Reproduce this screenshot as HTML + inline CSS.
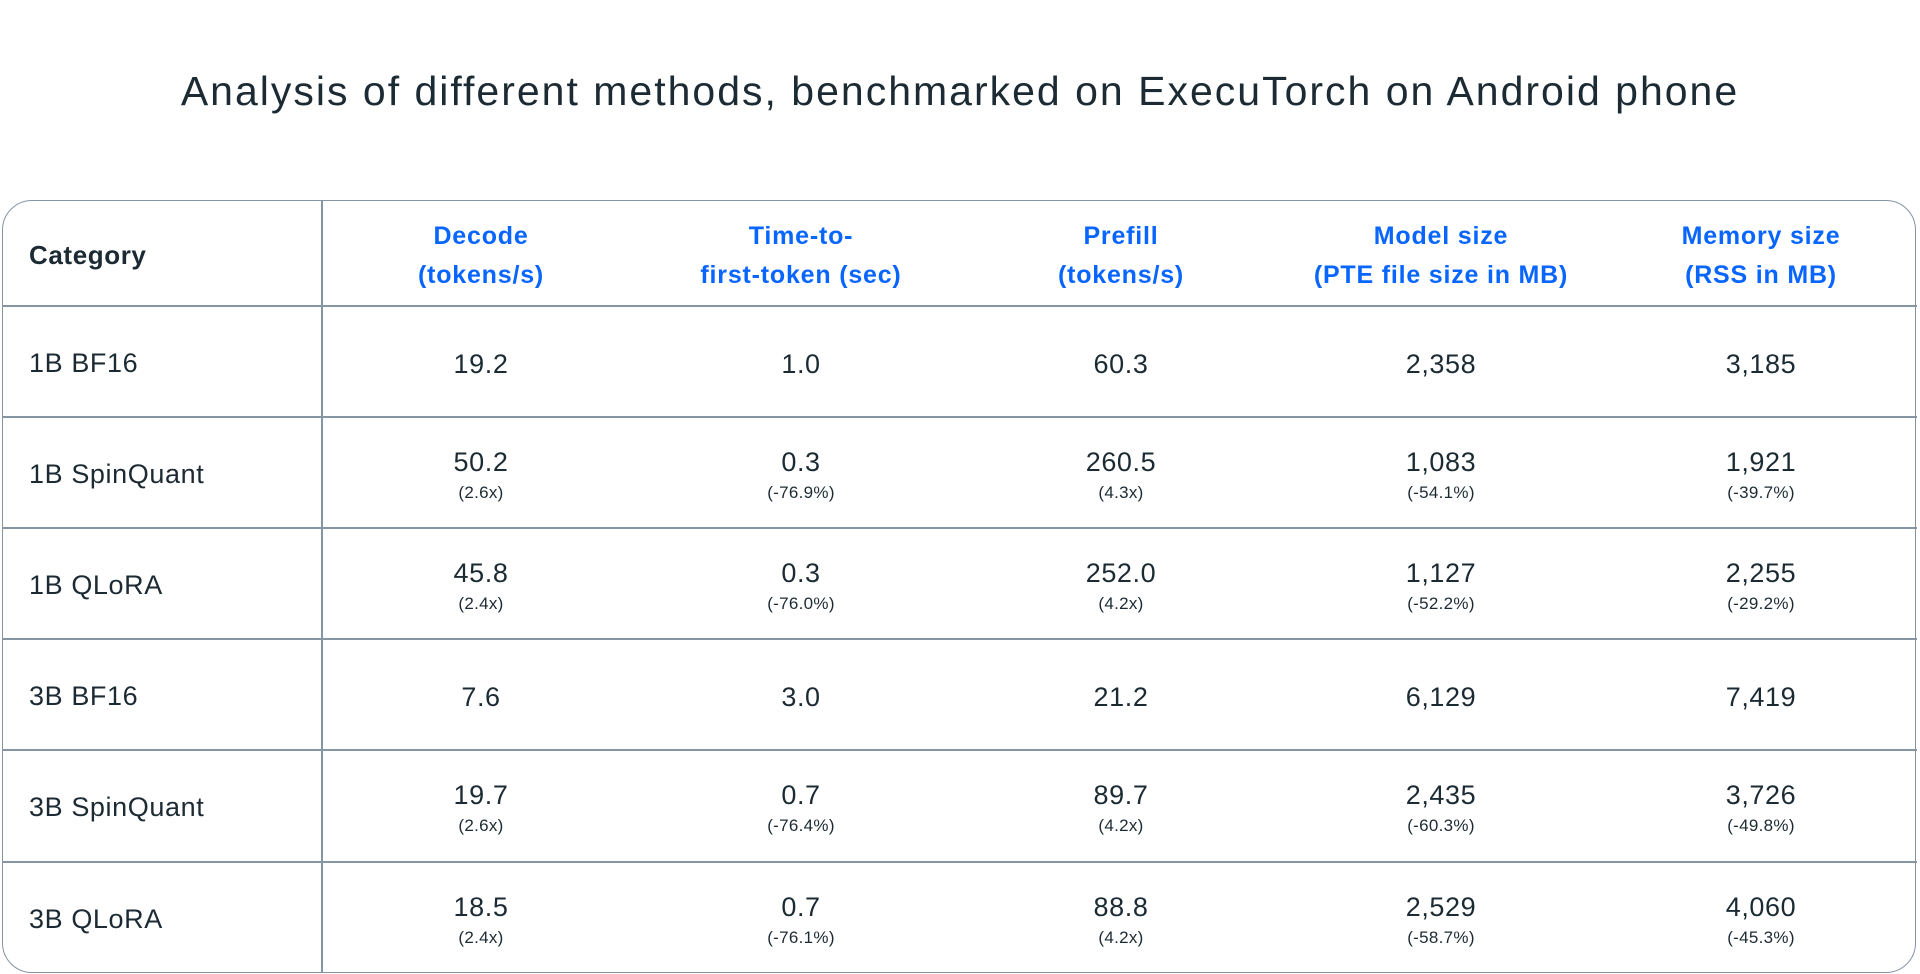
<!DOCTYPE html>
<html><head><meta charset="utf-8"><style>
body{margin:0;width:1920px;height:974px;background:#fff;font-family:"Liberation Sans",sans-serif;color:#1c2b33;position:relative;overflow:hidden}
.title{position:absolute;top:68px;left:0;width:1920px;text-align:center;font-size:41px;letter-spacing:2px;color:#1c2b33}
.tbl{position:absolute;left:2px;top:200px;width:1914px;height:773px;border:1.5px solid #8595a4;border-radius:30px;box-sizing:border-box}
.vl{position:absolute;left:321px;top:200px;width:1.5px;height:773px;background:#8595a4}
.hl{position:absolute;left:2px;width:1915px;height:1.5px;background:#8595a4}
.c{position:absolute;width:320px;text-align:center}
.h{color:#0866ff;font-weight:bold;font-size:25px;line-height:39px;letter-spacing:0.8px}
.cat{position:absolute;left:29px;font-size:27px;letter-spacing:0.6px}
.v{font-size:27px;line-height:32px;letter-spacing:0.6px}
.s{font-size:17px;line-height:20px;margin-top:5px;letter-spacing:0.3px}
</style></head><body>
<div class="title">Analysis of different methods, benchmarked on ExecuTorch on Android phone</div>
<div class="tbl"></div>
<div class="vl"></div>
<div class="hl" style="top:305px"></div>
<div class="hl" style="top:416px"></div>
<div class="hl" style="top:527px"></div>
<div class="hl" style="top:638px"></div>
<div class="hl" style="top:749px"></div>
<div class="hl" style="top:861px"></div>
<div class="cat" style="top:240px;font-weight:bold;font-size:26px">Category</div>
<div class="c h" style="left:321px;top:217px">Decode<br>(tokens/s)</div>
<div class="c h" style="left:641px;top:217px">Time-to-<br>first-token (sec)</div>
<div class="c h" style="left:961px;top:217px">Prefill<br>(tokens/s)</div>
<div class="c h" style="left:1281px;top:217px">Model size<br>(PTE file size in MB)</div>
<div class="c h" style="left:1601px;top:217px">Memory size<br>(RSS in MB)</div>
<div id="rows"></div>
<script>
var rows=[["1B BF16",["19.2"],["1.0"],["60.3"],["2,358"],["3,185"]],
["1B SpinQuant",["50.2","(2.6x)"],["0.3","(-76.9%)"],["260.5","(4.3x)"],["1,083","(-54.1%)"],["1,921","(-39.7%)"]],
["1B QLoRA",["45.8","(2.4x)"],["0.3","(-76.0%)"],["252.0","(4.2x)"],["1,127","(-52.2%)"],["2,255","(-29.2%)"]],
["3B BF16",["7.6"],["3.0"],["21.2"],["6,129"],["7,419"]],
["3B SpinQuant",["19.7","(2.6x)"],["0.7","(-76.4%)"],["89.7","(4.2x)"],["2,435","(-60.3%)"],["3,726","(-49.8%)"]],
["3B QLoRA",["18.5","(2.4x)"],["0.7","(-76.1%)"],["88.8","(4.2x)"],["2,529","(-58.7%)"],["4,060","(-45.3%)"]]];
var tops=[305,416,527,638,749,861],h="";
rows.forEach(function(r,i){var c=tops[i]+55;
h+='<div class="cat" style="top:'+(c-12)+'px">'+r[0]+'</div>';
for(var j=1;j<6;j++){var d=r[j];var t=d.length>1?c-25:c-12;
h+='<div class="c" style="left:'+(321+320*(j-1))+'px;top:'+t+'px"><div class="v">'+d[0]+'</div>'+(d[1]?'<div class="s">'+d[1]+'</div>':'')+'</div>';}});
document.getElementById("rows").innerHTML=h;
</script>
</body></html>
